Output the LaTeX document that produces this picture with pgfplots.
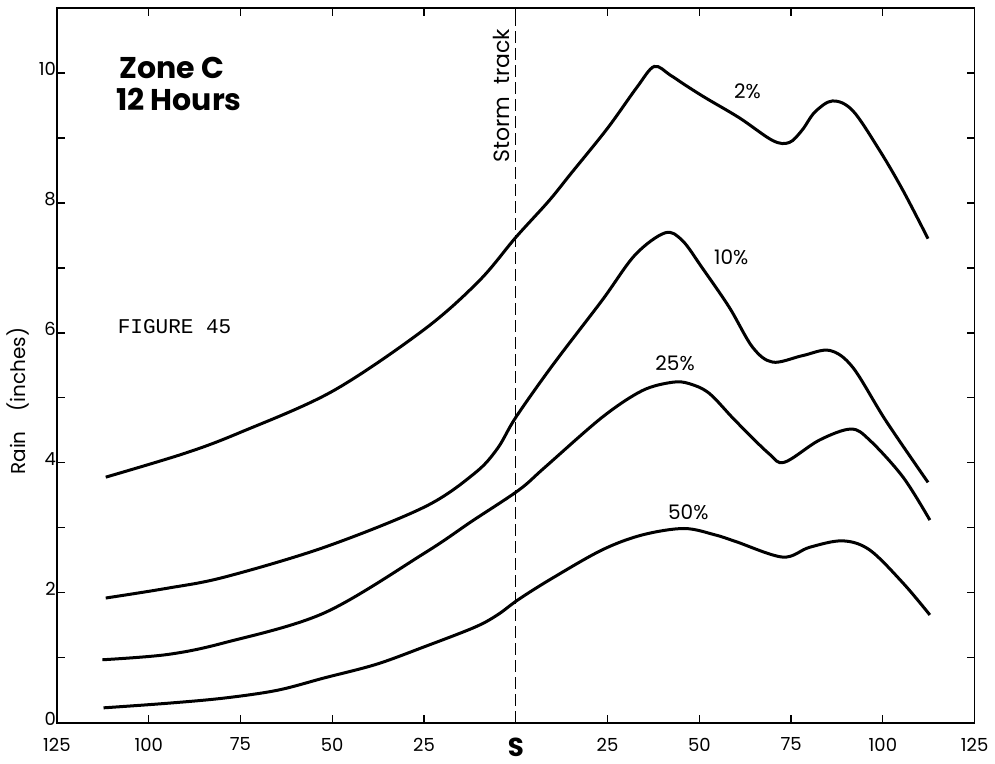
\documentclass[border=0pt]{standalone}
\usepackage{pgfplots}
\pgfplotsset{compat=1.18}
\usepackage{fontspec}
\setmainfont{Poppins}
\newfontfamily\typewriter{Liberation Mono}

\begin{document}
\begin{tikzpicture}
\begin{axis}[
  scale only axis,
  width=459pt, height=357.5pt,
  xmin=-125, xmax=125, ymin=0, ymax=11,
  axis line style={line width=0.8pt},
  tick align=inside,
  xtick={-125,-100,...,125},
  xticklabels={125,100,75,50,25,{\fontsize{13}{13}\selectfont\bfseries S},25,50,75,100,125},
  ytick={0,2,...,10},
  minor ytick={1,3,...,11},
  major tick length=4pt, minor tick length=4pt,
  tick style={black, line width=0.6pt},
  ticklabel style={font=\fontsize{9}{10}\selectfont},
  xticklabel style={yshift=-4pt},
  yticklabel style={xshift=3pt, yshift=2pt},
  /pgf/number format/assume math mode=true,
  ylabel={Rain\quad(inches)},
  ylabel style={font=\fontsize{10}{12}\selectfont, at={(ticklabel cs:0.45)}, yshift=-2pt},
  clip=false,
]
% storm track
\addplot[black, line width=0.7pt, dash pattern=on 6pt off 2.5pt] coordinates {(0,0) (0,11)};

% 2%
\addplot[black, line width=1.5pt, smooth, tension=0.55] coordinates {
(-111.7,3.78) (-90,4.15) (-75,4.47) (-50,5.1) (-25,6.05) (-10,6.8) (0,7.47)
(9,8.03) (15,8.45) (25,9.15) (33,9.78) (37.7,10.1) (42,9.97) (46,9.82)
(51.6,9.62) (60.9,9.31) (70,8.96) (74.5,8.93) (78,9.12) (81.5,9.40) (86.3,9.57)
(91.8,9.42) (99.2,8.80) (105.5,8.19) (112.3,7.45)};

% 10%
\addplot[black, line width=1.5pt, smooth, tension=0.55] coordinates {
(-111.7,1.92) (-95,2.07) (-79.5,2.24) (-52.2,2.70) (-24.9,3.32) (-11.2,3.84)
(-5,4.22) (0,4.70) (10,5.5) (23.5,6.5) (32.5,7.2) (40.7,7.54) (45.4,7.42) (50.8,7.0)
(58.2,6.39) (64.5,5.78) (70,5.55) (78.1,5.65) (85.5,5.73) (91.8,5.47)
(100.8,4.65) (112.3,3.70)};

% 25%
\addplot[black, line width=1.5pt, smooth, tension=0.55] coordinates {
(-112.6,0.97) (-95,1.05) (-79.5,1.23) (-52.2,1.69) (-24.9,2.61) (-12,3.10)
(0.8,3.58) (7.9,3.93) (23.5,4.70) (34.4,5.11) (42.6,5.24) (47.2,5.22) (52.7,5.07)
(59.8,4.65) (69,4.14) (73.2,4.01) (82.7,4.35) (91.3,4.52) (96.4,4.35)
(105.5,3.78) (112.8,3.12)};

% 50%
\addplot[black, line width=1.5pt, smooth, tension=0.55] coordinates {
(-112.3,0.23) (-95,0.30) (-79.5,0.38) (-65,0.50) (-52.2,0.69) (-38,0.90)
(-24.9,1.17) (-11.2,1.47) (-5,1.66) (0.8,1.90) (9.8,2.22) (23.5,2.66) (34.4,2.89)
(45.8,2.99) (54.4,2.89) (59.9,2.79) (72.7,2.55) (80,2.70) (89,2.80)
(96.4,2.66) (105.5,2.15) (112.8,1.66)};

\node[anchor=base west, inner sep=0pt, font=\bfseries\fontsize{15}{17}\selectfont] at (axis cs:-108,9.91) {Zone C};
\node[anchor=base west, inner sep=0pt, font=\bfseries\fontsize{15}{17}\selectfont] at (axis cs:-109,9.42) {12 Hours};
\node[anchor=base west, inner sep=0pt, font=\typewriter\fontsize{10.5}{12}\selectfont] at (axis cs:-108.5,5.99) {FIGURE 45};
\node[rotate=90, anchor=base, inner sep=0pt, font=\fontsize{11}{13}\selectfont] at (axis cs:-1.8,9.65) {Storm\ \ track};
\node[font=\fontsize{10}{12}\selectfont] at (axis cs:63.1,9.72) {2\%};
\node[font=\fontsize{10}{12}\selectfont] at (axis cs:58.7,7.17) {10\%};
\node[font=\fontsize{10}{12}\selectfont] at (axis cs:43.4,5.53) {25\%};
\node[font=\fontsize{10}{12}\selectfont] at (axis cs:47,3.24) {50\%};
\path (rel axis cs:0,1) -- ++(0,4pt);
\end{axis}
\end{tikzpicture}
\end{document}
